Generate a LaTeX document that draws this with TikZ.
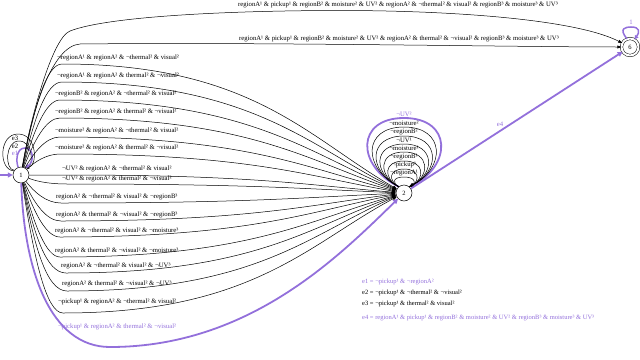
\documentclass[tikz,border=0pt]{standalone}
\usepackage{fontspec}
\setmainfont{Liberation Serif}
\usetikzlibrary{arrows.meta,calc}
\definecolor{purp}{RGB}{147,112,219}
\newcommand{\edgeOT}[5]{%
  \node[lbl,anchor=west] (#1) at (#2,#3) {#5};
  \coordinate (#1p) at (#2+5,#4);
  \draw[edge] (n1) .. controls (34,{175+(#4-175)*0.6}) and (46,#4) .. (#1p) .. controls +(190,0) and +(-95,{-0.42*(193-#4)}) .. (n2);
}
\begin{document}
\begin{tikzpicture}[x=1pt,y=-1pt,
  lbl/.style={font=\fontsize{6.7}{7}\selectfont, inner sep=0pt},
  glbl/.style={font=\fontsize{6.5}{7}\selectfont, inner sep=0pt},
  st/.style={draw, circle, minimum size=16pt, inner sep=0pt, line width=0.5pt, font=\fontsize{6.5}{7}\selectfont},
  edge/.style={draw, line width=0.5pt, -{Triangle[length=4pt,width=3pt]}},
  pedge/.style={draw=purp, line width=1.8pt, -{Triangle[length=5pt,width=5pt]}},
  plbl/.style={lbl, text=purp}]
\useasboundingbox (0,0) rectangle (640,359);

% states
\node[st] (n1) at (21,175) {1};
\node[st] (n2) at (404,193) {2};
\node[st, minimum size=17pt, double, double distance=2pt] (n6) at (630,47) {6};

% initial arrow
\coordinate (s0) at (0,175);
\draw[pedge] (s0) -- (n1);

% self loops of 1
\draw[edge] (n1.150) .. controls (-1.5,170) and (-1.5,134) .. (18,134) .. controls (37.5,134) and (37.5,166) .. (n1.60);
\draw[edge] (n1.145) .. controls (4.7,170) and (4.7,141) .. (19,141) .. controls (33.3,141) and (33.3,166) .. (n1.65);
\draw[pedge, line width=1.5pt, -{Triangle[length=4pt,width=4pt]}] (n1.110) .. controls (15.9,162) and (15.9,148) .. (25,148) .. controls (34.1,148) and (34.1,162) .. (n1.60);
\node[lbl] (e3l) at (15,138) {e3};
\node[lbl] (e2l) at (15,146) {e2};
\node[plbl] (e1l) at (15,153) {e1};

% edges 1 -> 6
\node[lbl] (la) at (398,4.5) {regionA¹ \& pickup¹ \& regionB² \& moisture² \& UV² \& regionA² \& ¬thermal² \& visual² \& regionB³ \& moisture³ \& UV³};
\node[lbl] (lb) at (399,39) {regionA¹ \& pickup¹ \& regionB² \& moisture² \& UV² \& regionA² \& thermal² \& ¬visual² \& regionB³ \& moisture³ \& UV³};
\coordinate (ap1) at (70,31);
\coordinate (ap2) at (340,10.5);
\coordinate (bp1) at (80,44);
\draw[edge] (n1) .. controls (30,120) and (52,38) .. (ap1) .. controls (110,15.5) and (240,10.5) .. (ap2) .. controls (450,10.5) and (575,19) .. (n6);
\draw[edge] (n1) .. controls (32,110) and (52,46) .. (bp1) .. controls (260,42) and (520,47) .. (n6);

% edges 1 -> 2
\edgeOT{k1}{57}{58}{64}{¬regionA¹ \& regionA² \& ¬thermal² \& visual²}
\edgeOT{k2}{57}{76}{82}{¬regionA¹ \& regionA² \& thermal² \& ¬visual²}
\edgeOT{k3}{55}{94}{100}{¬regionB² \& regionA² \& ¬thermal² \& visual²}
\edgeOT{k4}{55}{112}{118}{¬regionB² \& regionA² \& thermal² \& ¬visual²}
\edgeOT{k5}{55}{131}{137}{¬moisture² \& regionA² \& ¬thermal² \& visual²}
\edgeOT{k6}{55}{148}{154}{¬moisture² \& regionA² \& thermal² \& ¬visual²}
\edgeOT{k7}{62}{169}{175}{¬UV² \& regionA² \& ¬thermal² \& visual²}
\edgeOT{k8}{62}{179}{184}{¬UV² \& regionA² \& thermal² \& ¬visual²}
\edgeOT{k9}{56}{197}{203}{regionA² \& ¬thermal² \& visual² \& ¬regionB³}
\edgeOT{k10}{56}{215}{221}{regionA² \& thermal² \& ¬visual² \& ¬regionB³}
\edgeOT{k11}{55}{231}{237}{regionA² \& ¬thermal² \& visual² \& ¬moisture³}
\edgeOT{k12}{55}{251}{257}{regionA² \& thermal² \& ¬visual² \& ¬moisture³}
\edgeOT{k13}{61}{266}{273}{regionA² \& ¬thermal² \& visual² \& ¬UV³}
\edgeOT{k14}{62}{284}{291}{regionA² \& thermal² \& ¬visual² \& ¬UV³}
\edgeOT{k15}{58}{302}{313}{¬pickup¹ \& regionA² \& ¬thermal² \& visual²}
\node[plbl,anchor=west] (k16) at (58,327) {¬pickup¹ \& regionA² \& thermal² \& ¬visual²};
\coordinate (k16p) at (110,347);
\draw[pedge] (n1) .. controls (24,270) and (50,347) .. (k16p) .. controls (250,347) and (340,255) .. (n2);

% self loops of 2
\foreach \t/\w/\lab/\c/\lw [count=\i] in {
  118/37/{¬UV²}/purp/1.8pt,
  127/32/{¬moisture²}/black/0.5pt,
  136/28/{¬regionB²}/black/0.5pt,
  144/24/{¬UV¹}/black/0.5pt,
  152/20/{¬moisture¹}/black/0.5pt,
  161/16/{¬regionB¹}/black/0.5pt,
  169/12/{¬pickup¹}/black/0.5pt,
  177/9/{¬regionA¹}/black/0.5pt}{
  \pgfmathsetmacro\hh{186-\t}
  \draw[edge, draw=\c, line width=\lw] (n2.130) .. controls ({404-1.3*\w},{186-0.3*\hh}) and ({404-1.3*\w},\t) .. (404,\t) .. controls ({404+1.3*\w},\t) and ({404+1.3*\w},{186-0.3*\hh}) .. (n2.50);
  \node[lbl, text=\c] (ll\i) at (404,\t-4) {\lab};
}

% 2 -> 6
\draw[pedge] (n2) -- (n6);
\node[plbl] (e4l) at (500,124) {e4};

% self loop of 6
\draw[pedge, line width=1.5pt, -{Triangle[length=4pt,width=4pt]}] (n6.110) .. controls (618,28) and (626,27) .. (631,27) .. controls (640,27) and (640,32) .. (n6.60);
\node[plbl] (l6) at (631,22) {1};

% legend
\node[glbl,text=purp,anchor=west] (g1) at (362,282) {e1 = ¬pickup¹ \& ¬regionA²};
\node[glbl,anchor=west] (g2) at (362,293) {e2 = ¬pickup¹ \& ¬thermal² \& ¬visual²};
\node[glbl,anchor=west] (g3) at (362,304) {e3 = ¬pickup¹ \& thermal² \& visual²};
\node[glbl,text=purp,anchor=west] (g4) at (362,318) {e4 = regionA¹ \& pickup¹ \& regionB² \& moisture² \& UV² \& regionB³ \& moisture³ \& UV³};
\end{tikzpicture}
\end{document}
